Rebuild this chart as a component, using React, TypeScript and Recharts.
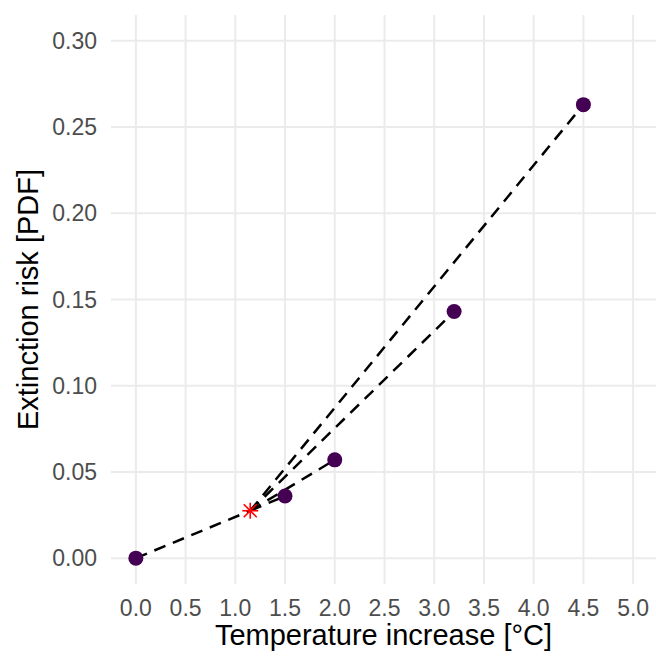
import React from 'react';
import { ComposedChart, Line, Scatter, XAxis, YAxis, CartesianGrid } from 'recharts';

// Scenario points (temperature increase, extinction risk)
const TEMPS = [0, 1.5, 2.0, 3.2, 4.5];
const RISKS = [0, 0.036, 0.057, 0.143, 0.263];

// Current warming marker
const CURRENT_TEMP = [1.15];
const CURRENT_RISK = [0.0275];

const X_TICKS = [0, 0.5, 1, 1.5, 2, 2.5, 3, 3.5, 4, 4.5, 5];
const Y_TICKS = [0, 0.05, 0.1, 0.15, 0.2, 0.25, 0.3];

const FONT = '"Liberation Sans", Arial, sans-serif';

const points = TEMPS.map((t, i) => ({ x: t, y: RISKS[i] }));
const current = { x: CURRENT_TEMP[0], y: CURRENT_RISK[0] };

// dashed segments: origin -> current, then current -> each scenario
const segments = [
  [points[0], current],
  ...points.slice(1).map(p => [current, p]),
];

const Asterisk = (props: any) => {
  const { cx, cy } = props;
  const a = 8;
  const d = 6.5;
  return (
    <g stroke="#ff0000" strokeWidth={1.6}>
      <line x1={cx} y1={cy - a} x2={cx} y2={cy + a} />
      <line x1={cx - a} y1={cy} x2={cx + a} y2={cy} />
      <line x1={cx - d} y1={cy - d} x2={cx + d} y2={cy + d} />
      <line x1={cx - d} y1={cy + d} x2={cx + d} y2={cy - d} />
    </g>
  );
};

export default function App() {
  return (
    <div style={{ position: 'absolute', left: 0, top: 0, background: '#fff' }}>
      <ComposedChart width={656} height={656} margin={{ top: 15, right: 0, bottom: 0, left: 0 }}>
        <CartesianGrid
          stroke="#ebebeb"
          strokeWidth={2}
          verticalValues={X_TICKS}
          horizontalValues={Y_TICKS}
        />
        <XAxis
          type="number"
          dataKey="x"
          domain={[-0.25, 5.23]}
          ticks={X_TICKS}
          tickFormatter={(v: number) => v.toFixed(1)}
          axisLine={false}
          tickLine={false}
          tickMargin={10}
          height={72}
          allowDataOverflow
          tick={{ fill: '#4d4d4d', fontSize: 23, fontFamily: FONT }}
          label={{
            value: 'Temperature increase [°C]',
            position: 'insideBottom',
            offset: 11,
            style: { fill: '#000', fontSize: 29, fontFamily: FONT },
          }}
        />
        <YAxis
          type="number"
          dataKey="y"
          domain={[-0.015, 0.315]}
          ticks={Y_TICKS}
          tickFormatter={(v: number) => v.toFixed(2)}
          axisLine={false}
          tickLine={false}
          tickMargin={8}
          width={111}
          allowDataOverflow
          tick={{ fill: '#4d4d4d', fontSize: 23, fontFamily: FONT }}
          label={{
            value: 'Extinction risk [PDF]',
            angle: -90,
            position: 'insideLeft',
            offset: 28,
            style: { fill: '#000', fontSize: 29, fontFamily: FONT, textAnchor: 'middle' },
          }}
        />
        {segments.map((seg, i) => (
          <Line
            key={`seg-${i}`}
            data={seg}
            dataKey="y"
            stroke="#000"
            strokeWidth={2.5}
            strokeDasharray="12 8"
            dot={false}
            activeDot={false}
            isAnimationActive={false}
          />
        ))}
        <Scatter data={points} fill="#440154" shape={(p: any) => <circle cx={p.cx} cy={p.cy} r={7.5} fill="#440154" />} isAnimationActive={false} />
        <Scatter data={[current]} shape={Asterisk} isAnimationActive={false} />
      </ComposedChart>
    </div>
  );
}
